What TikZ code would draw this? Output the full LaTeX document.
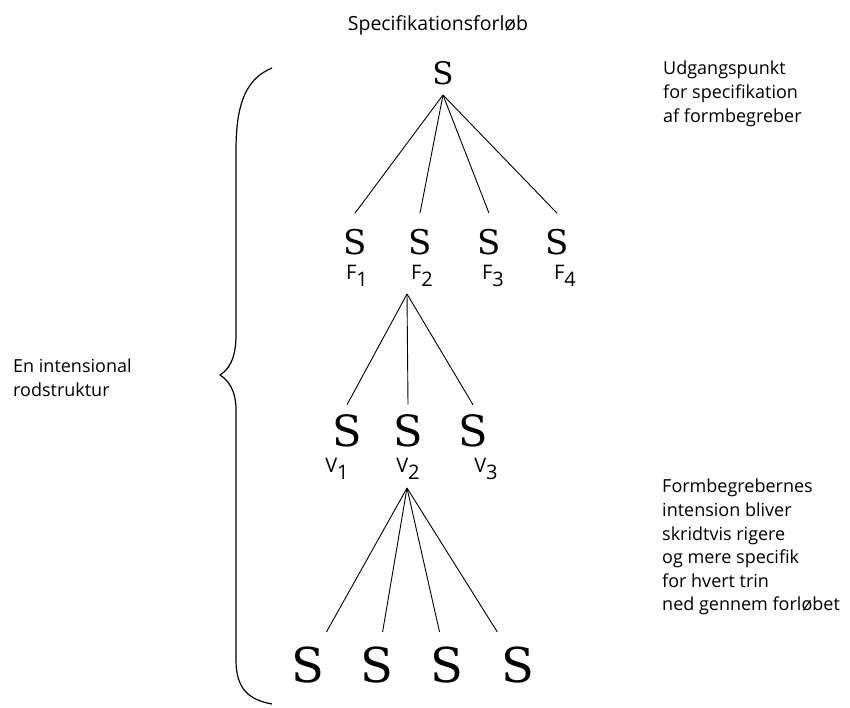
\documentclass[tikz,border=0pt]{standalone}
\usepackage{fontspec}
\setmainfont{Open Sans}
\newfontfamily\sfam{DejaVu Serif}
\usetikzlibrary{positioning}
\newcommand\lab[2]{#1\raisebox{-7pt}{#2}}

\begin{document}
\begin{tikzpicture}[x=1pt,y=1pt,
    every node/.style={inner sep=0pt},
    sym/.style={font=\sfam\fontsize{#1}{#1}\selectfont},
    idx/.style={font=\fontsize{20}{20}\selectfont},
    txt/.style={font=\fontsize{18}{23.6}\selectfont,align=left,anchor=north west},
    edge/.style={line width=0.9pt}]
    \useasboundingbox (0,0) rectangle (850,-707);
    % titel og tekster
    \node[txt,anchor=north,font=\fontsize{19.5}{23.6}\selectfont] (titel) at (438,-15) {Specifikationsforløb};
    \node[txt] (udg) at (663,-61) {Udgangspunkt\\for specifikation\\af formbegreber};
    \node[txt] (rod) at (13,-359) {En intensional\\rodstruktur};
    \node[txt] (form) at (662,-479) {Formbegrebernes\\intension bliver\\skridtvis rigere\\og mere specifik\\for hvert trin\\ned gennem forløbet};
    % traeet
    \node[sym=31] (top) at (443,-73) {S};
    \coordinate (topa) at (443,-95);
    \foreach \n/\x/\y in {1/355/357,2/420/422,3/489/493,4/557/565}{
        \node[sym=34,outer sep=16pt] (f\n) at (\x,-242) {S};
        \node[idx] (fl\n) at (\y,-276) {\lab{F}{\n}};
        \draw[edge] (topa) -- (f\n.north);
    }
    \coordinate (fa) at (407,-294);
    \foreach \n/\x/\y in {1/347/337,2/408/408,3/473/486}{
        \node[sym=43,outer sep=10pt] (v\n) at (\x,-431) {S};
        \node[idx] (vl\n) at (\y,-469) {\lab{V}{\n}};
        \draw[edge] (fa) -- (v\n.north);
    }
    \coordinate (va) at (407,-488);
    \foreach \n/\x in {1/308,2/377,3/447,4/518}{
        \node[sym=48,outer sep=15pt] (s\n) at (\x,-665) {S};
        \draw[edge] (va) -- (s\n);
    }
    % klammen
    \draw[line width=1.2pt] (272,-68) .. controls (248,-78) and (236,-100) .. (236,-150)
        -- (236,-335) .. controls (236,-360) and (228,-370) .. (220,-375)
        .. controls (228,-380) and (236,-390) .. (236,-410)
        -- (236,-660) .. controls (236,-690) and (250,-700) .. (272,-704);
\end{tikzpicture}
\end{document}
